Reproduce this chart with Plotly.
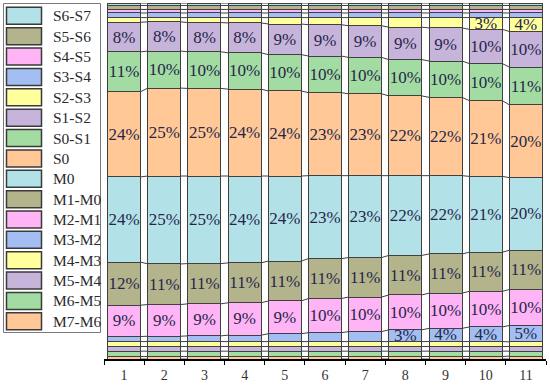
import math
import plotly.graph_objects as go

# ---------------- data ----------------
categories = [1, 2, 3, 4, 5, 6, 7, 8, 9, 10, 11]

# stack order: bottom -> top
series_names = ["M7-M6", "M6-M5", "M5-M4", "M4-M3", "M3-M2", "M2-M1", "M1-M0", "M0",
                "S0", "S0-S1", "S1-S2", "S2-S3", "S3-S4", "S4-S5", "S5-S6", "S6-S7"]

m7_m6 = [0.7, 0.7, 0.7, 0.7, 0.7, 0.7, 0.7, 0.7, 0.7, 0.7, 0.8]
m6_m5 = [1.5, 1.5, 1.5, 1.5, 1.5, 1.5, 1.5, 1.5, 1.5, 1.5, 1.4]
m5_m4 = [1.3, 1.3, 1.3, 1.3, 1.3, 1.3, 1.3, 1.3, 1.3, 1.3, 1.3]
m4_m3 = [1.4, 1.4, 1.4, 1.4, 1.4, 1.4, 1.4, 1.4, 1.4, 1.4, 1.3]
m3_m2 = [1.4, 1.5, 1.6, 1.8, 2.2, 2.5, 2.8, 3.3, 3.7, 4.1, 4.6]
m2_m1 = [8.8, 8.9, 9.0, 9.1, 9.2, 9.6, 9.7, 9.8, 9.9, 10.0, 10.1]
m1_m0 = [12.1, 11.4, 11.3, 11.2, 11.2, 11.2, 11.1, 11.1, 11.0, 11.0, 11.0]
m0 = [23.9, 24.7, 24.6, 24.4, 23.9, 23.3, 23.0, 22.4, 22.0, 21.3, 20.4]
s0 = [23.9, 24.7, 24.6, 24.4, 23.9, 23.3, 23.0, 22.4, 22.0, 21.3, 20.4]
s0_s1 = [11.2, 10.4, 10.3, 10.2, 10.2, 10.3, 10.2, 10.2, 10.2, 10.4, 10.6]
s1_s2 = [8.3, 8.2, 8.2, 8.4, 8.6, 8.8, 8.9, 9.1, 9.3, 9.6, 10.0]
s2_s3 = [1.3, 1.2, 1.4, 1.5, 1.8, 2.0, 2.3, 2.7, 2.9, 3.3, 3.9]
s3_s4 = [1.3, 1.3, 1.3, 1.3, 1.3, 1.3, 1.3, 1.3, 1.3, 1.3, 1.3]
s4_s5 = [1.0, 1.0, 1.0, 1.0, 1.0, 1.0, 1.0, 1.0, 1.0, 1.0, 1.0]
s5_s6 = [1.1, 1.1, 1.1, 1.1, 1.1, 1.1, 1.1, 1.1, 1.1, 1.1, 1.1]
s6_s7 = [0.7, 0.7, 0.7, 0.7, 0.7, 0.7, 0.7, 0.7, 0.7, 0.7, 0.7]

series_values = [m7_m6, m6_m5, m5_m4, m4_m3, m3_m2, m2_m1, m1_m0, m0,
                 s0, s0_s1, s1_s2, s2_s3, s3_s4, s4_s5, s5_s6, s6_s7]

series_colors = ["#ffc896", "#a2dca2", "#c6b4da", "#ffff9c", "#a2bef2", "#ffb4f6", "#b4b48c", "#b2e2e8",
                 "#ffc896", "#a2dca2", "#c6b4da", "#ffff9c", "#a2bef2", "#ffb4f6", "#b4b48c", "#b2e2e8"]

LABEL_MIN = 3.0

# ---------------- derived ----------------
totals = [sum(vals[i] for vals in series_values) for i in range(len(categories))]
pct = [[v / totals[i] * 100 for i, v in enumerate(vals)] for vals in series_values]

FONT = "Liberation Serif"
EDGE = "#404040"
BAR_W = 0.82

fig = go.Figure()
for name, vals, col in zip(series_names, pct, series_colors):
    txt = [f"{math.floor(v + 0.5)}%" if v >= LABEL_MIN else "" for v in vals]
    fig.add_trace(go.Bar(
        x=categories, y=vals, name=name, width=BAR_W,
        marker=dict(color=col, line=dict(color=EDGE, width=1)),
        text=txt, textposition="inside", insidetextanchor="middle", textangle=0,
        textfont=dict(family=FONT, size=17, color="#26264a"),
        showlegend=False, hoverinfo="skip",
    ))

# connector lines between neighbouring bars at every stack boundary
cx, cy = [], []
n_series = len(pct)
for i in range(len(categories) - 1):
    acc_a, acc_b = 0.0, 0.0
    bounds_a, bounds_b = [0.0], [0.0]
    for s in range(n_series):
        acc_a += pct[s][i]
        acc_b += pct[s][i + 1]
        bounds_a.append(acc_a)
        bounds_b.append(acc_b)
    for ya, yb in zip(bounds_a, bounds_b):
        cx += [categories[i] + BAR_W / 2, categories[i + 1] - BAR_W / 2, None]
        cy += [ya, yb, None]
fig.add_trace(go.Scatter(x=cx, y=cy, mode="lines", line=dict(color=EDGE, width=1),
                         showlegend=False, hoverinfo="skip"))

# ---------------- layout ----------------
W, H = 550, 385
L, R, T, B = 104, 4, 3, 26
pw, ph = W - L - R, H - T - B


def px2paper(x, y):
    return (x - L) / pw, (H - B - y) / ph


shapes = []
annotations = []
# legend box
x0, y0 = px2paper(3.5, 3.5)
x1, y1 = px2paper(100.5, 332.5)
shapes.append(dict(type="rect", xref="paper", yref="paper", x0=x0, y0=y1, x1=x1, y1=y0,
                   line=dict(color="#7a7a7a", width=1), fillcolor="white", layer="above"))
legend_order = list(range(len(series_names)))[::-1]
for k, s in enumerate(legend_order):
    cyp = 15.8 + k * 20.37
    sx0, sy0 = px2paper(6.5, cyp - 8.5)
    sx1, sy1 = px2paper(41.5, cyp + 8.5)
    shapes.append(dict(type="rect", xref="paper", yref="paper", x0=sx0, y0=sy1, x1=sx1, y1=sy0,
                       line=dict(color="#3a3a3a", width=1.5), fillcolor=series_colors[s], layer="above"))
    tx, ty = px2paper(51, cyp)
    annotations.append(dict(xref="paper", yref="paper", x=tx, y=ty, text=series_names[s],
                            showarrow=False, xanchor="left", yanchor="middle",
                            font=dict(family=FONT, size=15.5, color="#2a2a2a")))

fig.update_layout(
    width=W, height=H,
    barmode="stack",
    bargap=0,
    margin=dict(l=L, r=R, t=T, b=B),
    paper_bgcolor="white", plot_bgcolor="white",
    uniformtext=dict(mode="show", minsize=17),
    shapes=shapes, annotations=annotations,
    xaxis=dict(range=[0.5, 11.5], tickvals=categories, ticktext=[str(c) for c in categories],
               showline=True, linecolor="black", linewidth=2, showgrid=False, zeroline=False,
               automargin=False, ticks="", ticklabelstandoff=2,
               tickfont=dict(family=FONT, size=14, color="#333333"),
               minor=dict(tickvals=[c - 0.5 for c in categories] + [categories[-1] + 0.5],
                          ticks="outside", ticklen=4, tickcolor="black", tickwidth=1)),
    yaxis=dict(range=[0, 100], visible=False, automargin=False),
)

fig.write_html("out.html", config={"displayModeBar": False, "staticPlot": True},
               post_script="document.body.style.margin='0';document.body.style.overflow='hidden';")
